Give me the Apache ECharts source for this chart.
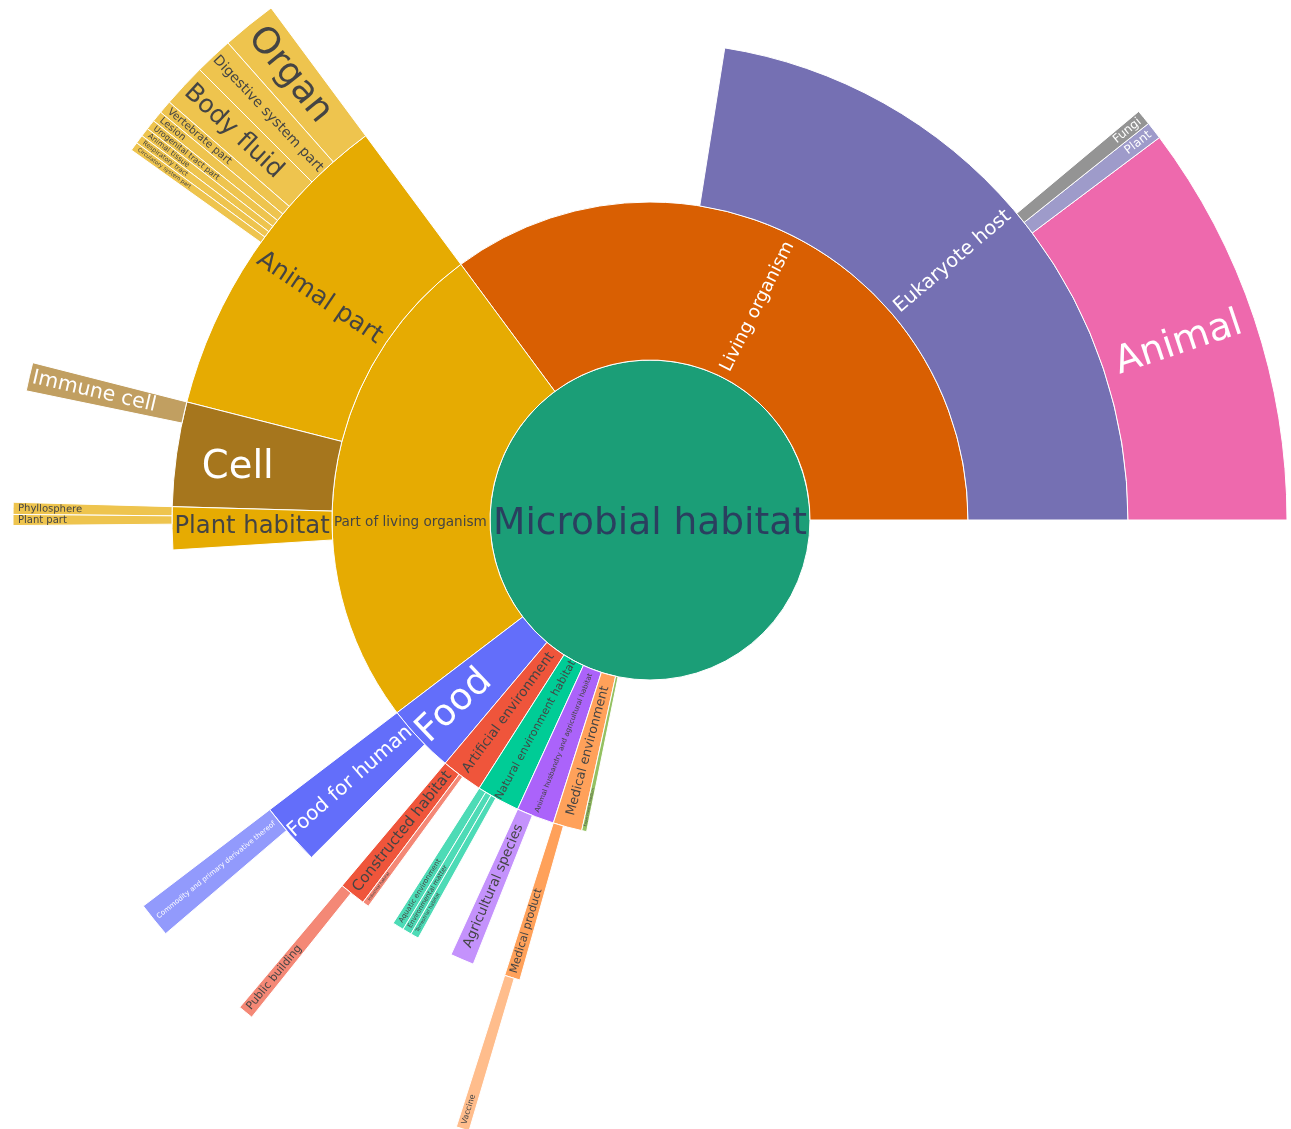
<!DOCTYPE html>
<html><head><meta charset="utf-8">
<script src="https://cdn.jsdelivr.net/npm/echarts@6/dist/echarts.min.js"></script>
<style>html,body{margin:0;padding:0;background:#fff}#chart{width:1291px;height:1129px}</style>
</head><body><div id="chart"></div>
<script>
// ---------- DATA (in angle units of a 360 total) ----------
const rootName = 'Microbial habitat';
const rootValue = 360;

const level1Names = ['Living organism', 'Part of living organism', 'Food', 'Artificial environment',
  'Natural environment habitat', 'Animal husbandry and agricultural habitat', 'Medical environment', 'Experimental medium'];
const level1Values = [126.5, 90.8, 12.6, 7.6, 7.9, 6.9, 5.3, 0.9];

const livingOrganismNames = ['Eukaryote host'];
const livingOrganismValues = [81.0];
const eukaryoteHostNames = ['Animal', 'Plant', 'Fungi'];
const eukaryoteHostValues = [36.9, 1.6, 1.4];

const partOfLivingNames = ['Animal part', 'Cell', 'Plant habitat'];
const partOfLivingValues = [39.2, 12.7, 5.2];
const animalPartNames = ['Organ', 'Digestive system part', 'Body fluid', 'Vertebrate part', 'Lesion',
  'Urogenital tract part', 'Animal tissue', 'Respiratory tract', 'Circulatory system part'];
const animalPartValues = [5.0, 3.5, 4.0, 1.2, 1.0, 0.9, 0.8, 0.8, 0.8];
const cellNames = ['Immune cell'];
const cellValues = [2.6];
const plantHabitatNames = ['Phyllosphere', 'Plant part'];
const plantHabitatValues = [1.1, 1.0];

const foodNames = ['Food for human'];
const foodValues = [7.6];
const foodForHumanNames = ['Commodity and primary derivative thereof'];
const foodForHumanValues = [3.2];

const artificialNames = ['Constructed habitat', 'Industrial habitat'];
const artificialValues = [3.2, 0.8];
const constructedNames = ['Public building'];
const constructedValues = [1.4];

const naturalNames = ['Aquatic environment', 'Environmental matter', 'Terrestrial habitat'];
const naturalValues = [1.4, 1.1, 1.0];

const husbandryNames = ['Agricultural species'];
const husbandryValues = [2.9];

const medicalNames = ['Medical product'];
const medicalValues = [1.9];
const medicalProductNames = ['Vaccine'];
const medicalProductValues = [1.2];

// ---------- STYLE ----------
const baseColor = {
  'Microbial habitat': '#1b9e77', 'Living organism': '#d95f02', 'Eukaryote host': '#7570b3',
  'Animal': '#e7298a', 'Plant': '#7570b3', 'Fungi': '#666666',
  'Part of living organism': '#e6ab02', 'Animal part': '#e6ab02', 'Cell': '#a6761d', 'Plant habitat': '#e6ab02',
  'Food': '#636efa', 'Artificial environment': '#ef553b', 'Natural environment habitat': '#00cc96',
  'Animal husbandry and agricultural habitat': '#ab63fa', 'Medical environment': '#ffa15a', 'Experimental medium': '#66a61e'
};
const whiteText = new Set(['Living organism', 'Eukaryote host', 'Animal', 'Plant', 'Fungi', 'Cell', 'Immune cell',
  'Food', 'Food for human', 'Commodity and primary derivative thereof']);
const fontSize = {
  'Microbial habitat': 37.5, 'Living organism': 18, 'Eukaryote host': 19.5, 'Animal': 38, 'Plant': 12, 'Fungi': 12,
  'Part of living organism': 13.6, 'Animal part': 25, 'Cell': 38.5, 'Plant habitat': 24.3, 'Immune cell': 20.5,
  'Organ': 36.5, 'Digestive system part': 14, 'Body fluid': 25, 'Vertebrate part': 10.5, 'Lesion': 9.5,
  'Urogenital tract part': 8, 'Animal tissue': 7.5, 'Respiratory tract': 6.5, 'Circulatory system part': 5.5,
  'Phyllosphere': 10, 'Plant part': 10, 'Food': 37, 'Food for human': 20, 'Commodity and primary derivative thereof': 7,
  'Artificial environment': 13.5, 'Constructed habitat': 15, 'Industrial habitat': 4, 'Public building': 11,
  'Natural environment habitat': 11, 'Aquatic environment': 7, 'Environmental matter': 6.5, 'Terrestrial habitat': 5,
  'Animal husbandry and agricultural habitat': 7, 'Agricultural species': 13.5, 'Medical environment': 12.7,
  'Experimental medium': 3.5, 'Medical product': 11, 'Vaccine': 8
};
const horizontal = new Set(['Microbial habitat', 'Part of living organism', 'Cell', 'Plant habitat']);
const outerAligned = new Set(['Public building', 'Vaccine', 'Medical product', 'Aquatic environment', 'Environmental matter',
  'Terrestrial habitat', 'Industrial habitat', 'Experimental medium', 'Phyllosphere', 'Plant part', 'Fungi', 'Plant',
  'Vertebrate part', 'Lesion', 'Urogenital tract part', 'Animal tissue', 'Respiratory tract', 'Circulatory system part']);
// horizontal shift via padding
const labelPadding = {
  'Microbial habitat': [0, 0, 0, 160],
  'Part of living organism': [0, 6, 0, 0],
  'Cell': [0, 36, 0, 0],
  'Food': [0, 62, 0, 0],
  'Organ': [0, 30, 0, 0],
  'Body fluid': [0, 24, 0, 0],
  'Immune cell': [0, 26, 0, 0]
};
// downward shift (px) of a horizontal label, done with an empty first line
const labelDrop = { 'Microbial habitat': 4, 'Part of living organism': 36, 'Cell': 3 };

function lighten(hex, a) {
  const n = parseInt(hex.slice(1), 16);
  const r = (n >> 16) & 255, g = (n >> 8) & 255, b = n & 255;
  const f = v => Math.round(v * a + 255 * (1 - a));
  return 'rgb(' + f(r) + ',' + f(g) + ',' + f(b) + ')';
}

const childTable = {
  'Microbial habitat': [level1Names, level1Values],
  'Living organism': [livingOrganismNames, livingOrganismValues],
  'Eukaryote host': [eukaryoteHostNames, eukaryoteHostValues],
  'Part of living organism': [partOfLivingNames, partOfLivingValues],
  'Animal part': [animalPartNames, animalPartValues],
  'Cell': [cellNames, cellValues],
  'Plant habitat': [plantHabitatNames, plantHabitatValues],
  'Food': [foodNames, foodValues],
  'Food for human': [foodForHumanNames, foodForHumanValues],
  'Artificial environment': [artificialNames, artificialValues],
  'Constructed habitat': [constructedNames, constructedValues],
  'Natural environment habitat': [naturalNames, naturalValues],
  'Animal husbandry and agricultural habitat': [husbandryNames, husbandryValues],
  'Medical environment': [medicalNames, medicalValues],
  'Medical product': [medicalProductNames, medicalProductValues]
};

function build(name, value, parentColor) {
  const base = baseColor[name] || parentColor;
  const kids = childTable[name];
  const isLeaf = !kids;
  const label = {
    fontSize: fontSize[name] || 10,
    color: name === rootName ? '#2a3f5f' : (whiteText.has(name) ? '#ffffff' : '#444444')
  };
  if (horizontal.has(name)) label.rotate = 0;
  if (outerAligned.has(name)) label.align = 'right';
  if (labelPadding[name]) label.padding = labelPadding[name];
  if (labelDrop[name]) {
    label.formatter = '\n' + name;
    label.lineHeight = labelDrop[name] * 2;
  }
  const node = {
    name: name, value: value,
    itemStyle: { color: isLeaf ? lighten(base, 0.7) : base },
    label: label
  };
  if (kids) node.children = kids[0].map((n, i) => build(n, kids[1][i], base));
  return node;
}

const chart = echarts.init(document.getElementById('chart'), null, { renderer: 'canvas' });
chart.setOption({
  animation: false,
  series: [{
    type: 'sunburst',
    center: [650, 520],
    startAngle: 0,
    clockwise: false,
    sort: null,
    nodeClick: false,
    data: [build(rootName, rootValue, '#1b9e77')],
    itemStyle: { borderColor: '#ffffff', borderWidth: 1 },
    label: { fontFamily: 'DejaVu Sans', rotate: 'radial', minAngle: 0 },
    levels: [
      {},
      { r0: 0, r: 160 },
      { r0: 160, r: 318 },
      { r0: 318, r: 478 },
      { r0: 478, r: 637 }
    ]
  }]
});
</script>
</body></html>
